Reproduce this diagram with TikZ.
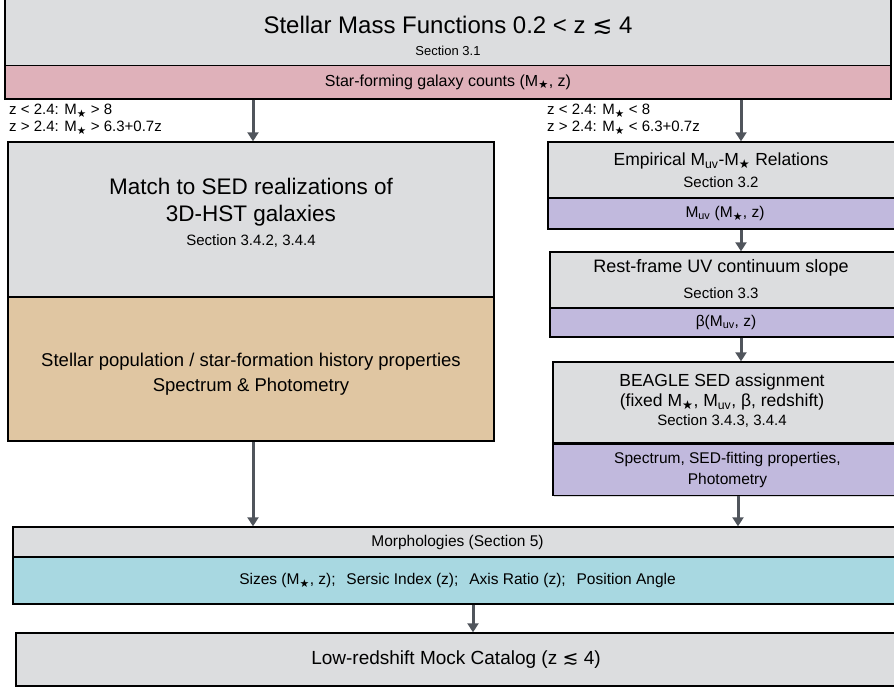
\documentclass[tikz,border=0pt]{standalone}
\usepackage{fontspec}
\setmainfont{Liberation Sans}
\newfontfamily\symfont{DejaVu Sans}
\usetikzlibrary{arrows.meta,shadows}

\definecolor{boxgray}{HTML}{DCDDDF}
\definecolor{smfpink}{HTML}{DFB1BA}
\definecolor{uvpurple}{HTML}{C1B9DD}
\definecolor{proptan}{HTML}{E0C6A2}
\definecolor{morphcyan}{HTML}{A8D8E1}
\definecolor{arrowgray}{HTML}{50555C}

\newcommand{\Mst}{M\textsubscript{\symfont ★}}
\newcommand{\Muv}{M\textsubscript{uv}}
\newcommand{\lsim}{{\symfont ≲}}

\tikzset{
  box/.style={draw=black, line width=1.4pt, inner sep=0pt,
    drop shadow={shadow xshift=1.2pt, shadow yshift=-1.2pt, opacity=0.3}},
  txt/.style 2 args={font=\fontsize{#1}{#2}\selectfont, inner sep=0pt},
  flow/.style={draw=arrowgray, line width=3pt, -{Triangle[width=11pt,length=9pt]}}
}

\begin{document}
\begin{tikzpicture}[x=1pt, y=-1pt]
  \useasboundingbox (0,0) rectangle (894,689);

  % Stellar mass functions
  \node[box, fill=boxgray, minimum width=886pt, minimum height=67.5pt] (smf) at (448,31.75) {};
  \node[box, fill=smfpink, minimum width=886pt, minimum height=33.5pt, txt={16}{19}] (smfband) at (448,82.25) {Star-forming galaxy counts (\Mst, z)};
  \node[txt={24}{28}] (smftitle) at (448,25) {Stellar Mass Functions 0.2 < z \lsim{} 4};
  \node[txt={13}{15}] (smfsec) at (448,51) {Section 3.1};

  % Mass cuts
  \node[txt={15}{17}, anchor=west, align=left] (cutlow) at (9,119) {z < 2.4: \Mst{} > 8\\z > 2.4: \Mst{} > 6.3+0.7z};
  \node[txt={15}{17}, anchor=west, align=left] (cuthigh) at (547,119) {z < 2.4: \Mst{} < 8\\z > 2.4: \Mst{} < 6.3+0.7z};

  % Left column: 3D-HST matching
  \node[box, fill=boxgray, minimum width=486pt, minimum height=155pt] (match) at (251,219.5) {};
  \node[box, fill=proptan, minimum width=486pt, minimum height=144pt] (props) at (251,369) {};
  \node[txt={22.5}{27}, align=center] (matchtitle) at (251,202.5) {Match to SED realizations of\\3D-HST galaxies};
  \node[txt={15}{17}] (matchsec) at (251,241) {Section 3.4.2, 3.4.4};
  \node[txt={18.5}{25}, align=center] (propstext) at (251,374.5) {Stellar population / star-formation history properties\\Spectrum \& Photometry};

  % Right column: empirical relations
  \node[box, fill=boxgray, minimum width=354pt, minimum height=56pt] (emp) at (725,170) {};
  \node[box, fill=uvpurple, minimum width=354pt, minimum height=31pt, txt={15.5}{18}] (empband) at (725,213.5) {\Muv{} (\Mst, z)};
  \node[txt={17.5}{20}] (emptitle) at (721,161) {Empirical \Muv-\Mst{} Relations};
  \node[txt={15}{18}] (empsec) at (721,182) {Section 3.2};

  \node[box, fill=boxgray, minimum width=352pt, minimum height=56pt] (slope) at (726,280) {};
  \node[box, fill=uvpurple, minimum width=352pt, minimum height=29pt, txt={15.5}{18}] (slopeband) at (726,322.5) {β(\Muv, z)};
  \node[txt={18}{20}] (slopetitle) at (721,268) {Rest-frame UV continuum slope};
  \node[txt={15}{18}] (slopesec) at (721,293) {Section 3.3};

  \node[box, fill=boxgray, minimum width=349pt, minimum height=81pt] (beagle) at (727.5,402.5) {};
  \node[box, fill=uvpurple, minimum width=349pt, minimum height=51pt, txt={15.5}{21}, align=center] (beagleband) at (727.5,470) {Spectrum, SED-fitting properties,\\Photometry};
  \node[txt={17.5}{20}, align=center] (beagletitle) at (722,392) {BEAGLE SED assignment\\(fixed \Mst, \Muv, β, redshift)};
  \node[txt={15}{18}] (beaglesec) at (722,421) {Section 3.4.3, 3.4.4};

  % Morphologies and final catalog
  \node[box, fill=boxgray, minimum width=889pt, minimum height=30pt, txt={15.5}{18}] (morph) at (457.5,542) {Morphologies (Section 5)};
  \node[box, fill=morphcyan, minimum width=889pt, minimum height=47pt, txt={15.5}{18}] (morphband) at (457.5,580.5) {Sizes (\Mst, z);\hspace{0.7em}Sersic Index (z);\hspace{0.7em}Axis Ratio (z);\hspace{0.7em}Position Angle};
  \node[box, fill=boxgray, minimum width=880pt, minimum height=53pt, txt={19}{22}] (lowcat) at (456,659.5) {Low-redshift Mock Catalog (z \lsim{} 4)};

  % Arrow columns
  \coordinate (lcol) at (253,0);
  \coordinate (rcol) at (741,0);
  \coordinate (rcolb) at (738,0);
  \coordinate (mcol) at (473,0);

  % Draw flow arrows
  \foreach \from/\to/\col in {smfband/match/lcol, smfband/emp/rcol, empband/slope/rcol,
      slopeband/beagle/rcol, props/morph/lcol, beagleband/morph/rcolb, morphband/lowcat/mcol}
    \draw[flow] (\from.south -| \col) -- (\to.north -| \col);
\end{tikzpicture}
\end{document}
